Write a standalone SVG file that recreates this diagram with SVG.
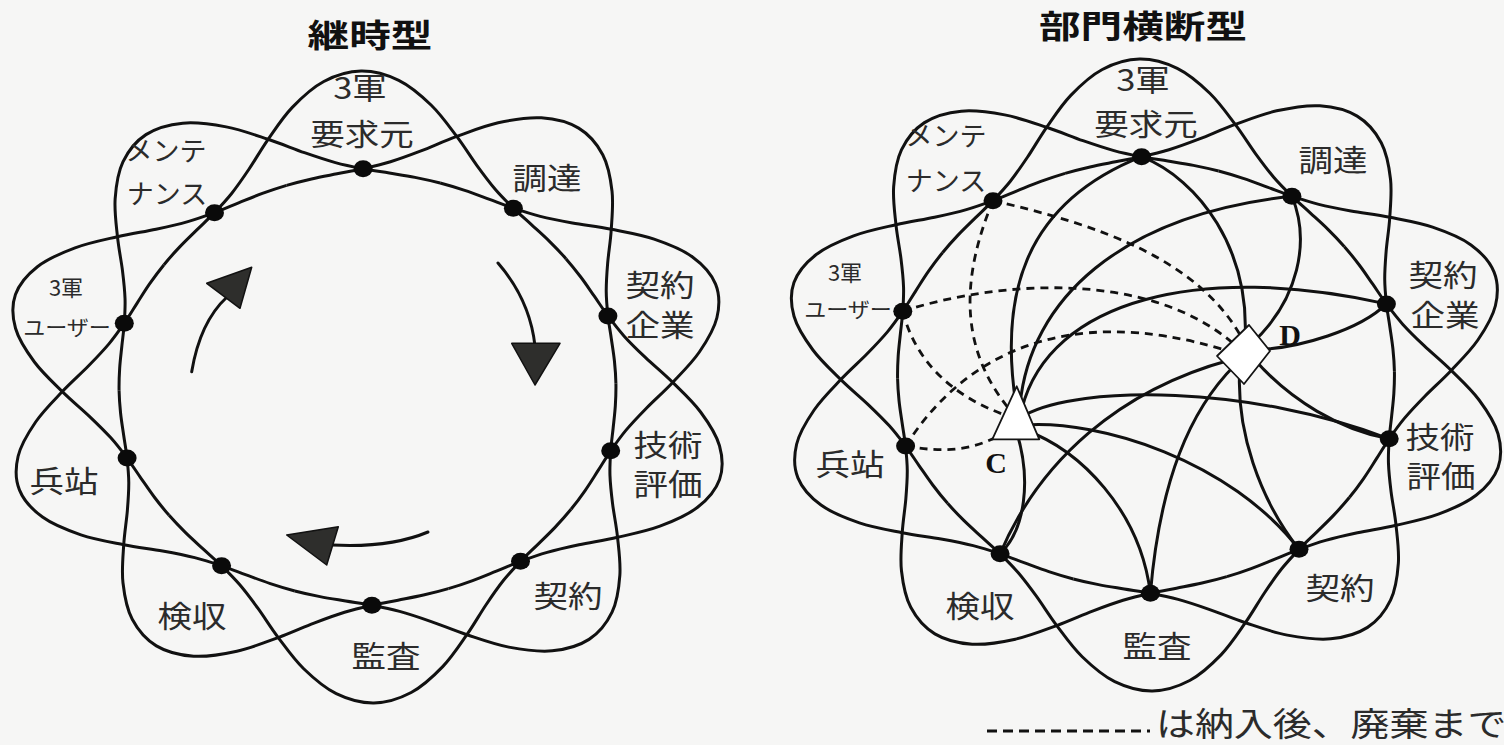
<svg xmlns="http://www.w3.org/2000/svg" width="1504" height="745" viewBox="0 0 1504 745">
<style>
.bg{fill:#f6f6f5}
.pt{fill:none;stroke:#111;stroke-width:3;vector-effect:non-scaling-stroke}
.ln{fill:none;stroke:#111;stroke-width:3;stroke-linecap:round}
.dsh{fill:none;stroke:#111;stroke-width:2.8;stroke-dasharray:8 6}
.dot{fill:#0a0a0a}
.lbl{font-family:"Noto Sans CJK JP","Noto Sans CJK SC",sans-serif;font-size:30px;fill:#2b2b2b;text-anchor:middle}
.kt{font-size:27px}
.sm{font-size:22px}
.us{font-size:21px}
.ttl{font-family:"Noto Sans CJK JP","Noto Sans CJK SC",sans-serif;font-size:32px;font-weight:700;fill:#111;text-anchor:middle}
.cd{font-family:"Liberation Serif",serif;font-size:30px;font-weight:700;fill:#111;text-anchor:middle}
.head{fill:#2e2e2c;stroke:#111;stroke-width:1.5;stroke-linejoin:round}
.shape{fill:#fff;stroke:#141414;stroke-width:1.8;stroke-linejoin:round}
.leg{font-family:"Noto Sans CJK JP","Noto Sans CJK SC",sans-serif;font-size:33px;fill:#2b2b2b}
</style>
<defs>
<path id="petal" class="pt" d="M-172.53,-125.35 C-168.16,-131.37 -163.5,-137.18 -158.7,-142.89 C-153.9,-148.6 -148.8,-154.01 -143.73,-159.63 C-138.66,-165.25 -133.42,-170.58 -128.31,-176.61 C-123.2,-182.64 -118.13,-188.63 -113.05,-195.81 C-107.97,-202.99 -103.17,-210.81 -97.82,-219.71 C-92.47,-228.61 -87.32,-239.01 -80.96,-249.18 C-74.6,-259.35 -67.8,-271.24 -59.67,-280.73 C-51.54,-290.22 -42.12,-300.23 -32.17,-306.11 C-22.23,-311.99 -10.72,-316 0,-316 C10.72,-316 22.23,-311.99 32.17,-306.11 C42.12,-300.23 51.54,-290.22 59.67,-280.73 C67.8,-271.24 74.6,-259.35 80.96,-249.18 C87.32,-239.01 92.47,-228.61 97.82,-219.71 C103.17,-210.81 107.97,-202.99 113.05,-195.81 C118.13,-188.63 123.2,-182.64 128.31,-176.61 C133.42,-170.58 138.66,-165.25 143.73,-159.63 C148.8,-154.01 153.9,-148.6 158.7,-142.89 C163.5,-137.18 168.16,-131.37 172.53,-125.35"/>
</defs>
<rect class="bg" x="0" y="0" width="1504" height="745"/>

<!-- titles -->
<text id="title-left" class="ttl" transform="translate(370 47) scale(1.3 1)">継時型</text>
<text id="title-right" class="ttl" transform="translate(1143 38) scale(1.3 1)">部門横断型</text>

<!-- LEFT FIGURE -->
<g id="left-rosette" transform="translate(367.5 387) scale(1.165 1) rotate(-1)">
<use href="#petal"/>
<use href="#petal" transform="rotate(36)"/>
<use href="#petal" transform="rotate(72)"/>
<use href="#petal" transform="rotate(108)"/>
<use href="#petal" transform="rotate(144)"/>
<use href="#petal" transform="rotate(180)"/>
<use href="#petal" transform="rotate(216)"/>
<use href="#petal" transform="rotate(252)"/>
<use href="#petal" transform="rotate(288)"/>
<use href="#petal" transform="rotate(324)"/>
</g>
<g id="left-arrows">
<path class="ln" d="M191.7,371.7 Q200,322 227,297"/>
<polygon class="head" points="206.7,283.3 251.7,267.3 240,308.3"/>
<path class="ln" d="M498,263 Q530,300 535,346"/>
<polygon class="head" points="511.7,343.3 560,343.3 535,385"/>
<path class="ln" d="M428,532 Q390,548 332,545"/>
<polygon class="head" points="286.7,535 338.3,526.7 326.7,565"/>
</g>
<g id="left-dots">
<ellipse class="dot" cx="363.1" cy="168.7" rx="9.5" ry="8.5"/>
<ellipse class="dot" cx="513.4" cy="208.2" rx="9.5" ry="8.5"/>
<ellipse class="dot" cx="607.9" cy="315.9" rx="9.5" ry="8.5"/>
<ellipse class="dot" cx="610.7" cy="450.8" rx="9.5" ry="8.5"/>
<ellipse class="dot" cx="520.5" cy="561.3" rx="9.5" ry="8.5"/>
<ellipse class="dot" cx="371.9" cy="605.3" rx="9.5" ry="8.5"/>
<ellipse class="dot" cx="221.6" cy="565.8" rx="9.5" ry="8.5"/>
<ellipse class="dot" cx="127.1" cy="458.1" rx="9.5" ry="8.5"/>
<ellipse class="dot" cx="124.3" cy="323.2" rx="9.5" ry="8.5"/>
<ellipse class="dot" cx="214.5" cy="212.7" rx="9.5" ry="8.5"/>
</g>
<g id="left-labels">
<g id="L-youkyuu"><text class="lbl" transform="translate(360 99) scale(1.15 1)">3軍</text><text class="lbl" transform="translate(362 145) scale(1.15 1)">要求元</text></g>
<g id="L-choutatsu"><text class="lbl" transform="translate(547 189) scale(1.15 1)">調達</text></g>
<g id="L-keiyakukigyou"><text class="lbl" transform="translate(660 296) scale(1.15 1)">契約</text><text class="lbl" transform="translate(660 336) scale(1.15 1)">企業</text></g>
<g id="L-gijutsu"><text class="lbl" transform="translate(668 456) scale(1.15 1)">技術</text><text class="lbl" transform="translate(668 495) scale(1.15 1)">評価</text></g>
<g id="L-keiyaku"><text class="lbl" transform="translate(568 607) scale(1.15 1)">契約</text></g>
<g id="L-kansa"><text class="lbl" transform="translate(386 667) scale(1.15 1)">監査</text></g>
<g id="L-kenshuu"><text class="lbl" transform="translate(192 627) scale(1.15 1)">検収</text></g>
<g id="L-heitan"><text class="lbl" transform="translate(64 492) scale(1.15 1)">兵站</text></g>
<g id="L-user"><text class="lbl sm" transform="translate(66 296)">3軍</text><text class="lbl us" transform="translate(67 335) scale(1.05 1)">ユーザー</text></g>
<g id="L-maint"><text class="lbl kt" transform="translate(166 161)">メンテ</text><text class="lbl kt" transform="translate(167 204)">ナンス</text></g>
</g>

<!-- RIGHT FIGURE -->
<g id="right-rosette" transform="translate(1146 375) scale(1.165 1) rotate(-1)">
<use href="#petal"/>
<use href="#petal" transform="rotate(36)"/>
<use href="#petal" transform="rotate(72)"/>
<use href="#petal" transform="rotate(108)"/>
<use href="#petal" transform="rotate(144)"/>
<use href="#petal" transform="rotate(180)"/>
<use href="#petal" transform="rotate(216)"/>
<use href="#petal" transform="rotate(252)"/>
<use href="#petal" transform="rotate(288)"/>
<use href="#petal" transform="rotate(324)"/>
</g>
<g id="connectors">
<path class="ln" d="M1016,405 C1000,300 1020,205 1141.6,156.7"/>
<path class="ln" d="M1020,405 C1030,300 1120,215 1291.9,196.2"/>
<path class="ln" d="M1022,408 C1050,300 1200,262 1386.4,303.9"/>
<path class="ln" d="M1025,415 C1080,385 1250,385 1389.2,438.8"/>
<path class="ln" d="M1025,425 C1100,420 1230,460 1299,549.3"/>
<path class="ln" d="M1025,430 C1080,450 1140,510 1150.4,593.3"/>
<path class="ln" d="M1016,430 C1032,480 1025,530 1000.1,553.8"/>
<path class="ln" d="M1141.6,156.7 C1200,180 1250,250 1245,340"/>
<path class="ln" d="M1291.9,196.2 C1310,240 1300,300 1250,345"/>
<path class="ln" d="M1255,350 C1300,348 1360,330 1386.4,303.9"/>
<path class="ln" d="M1255,360 C1290,400 1340,430 1389.2,438.8"/>
<path class="ln" d="M1240,365 C1235,430 1260,500 1299,549.3"/>
<path class="ln" d="M1235,365 C1190,410 1160,480 1150.4,593.3"/>
<path class="ln" d="M1230,360 C1120,390 1040,460 1000.1,553.8"/>
<path class="dsh" d="M993,200.7 C1100,225 1200,260 1243,340"/>
<path class="dsh" d="M993,200.7 C960,280 960,350 1010,410"/>
<path class="dsh" d="M902.8,311.2 C1000,280 1150,270 1235,345"/>
<path class="dsh" d="M902.8,311.2 C915,360 950,395 1005,415"/>
<path class="dsh" d="M905.6,446.1 C960,360 1060,300 1225,350"/>
<path class="dsh" d="M905.6,446.1 C940,452 970,452 1000,435"/>
</g>
<g id="right-dots">
<ellipse class="dot" cx="1141.6" cy="156.7" rx="9.5" ry="8.5"/>
<ellipse class="dot" cx="1291.9" cy="196.2" rx="9.5" ry="8.5"/>
<ellipse class="dot" cx="1386.4" cy="303.9" rx="9.5" ry="8.5"/>
<ellipse class="dot" cx="1389.2" cy="438.8" rx="9.5" ry="8.5"/>
<ellipse class="dot" cx="1299" cy="549.3" rx="9.5" ry="8.5"/>
<ellipse class="dot" cx="1150.4" cy="593.3" rx="9.5" ry="8.5"/>
<ellipse class="dot" cx="1000.1" cy="553.8" rx="9.5" ry="8.5"/>
<ellipse class="dot" cx="905.6" cy="446.1" rx="9.5" ry="8.5"/>
<ellipse class="dot" cx="902.8" cy="311.2" rx="9.5" ry="8.5"/>
<ellipse class="dot" cx="993" cy="200.7" rx="9.5" ry="8.5"/>
</g>
<g id="node-C">
<polygon class="shape" points="1016.7,386.3 992.3,439.3 1039.3,439.3"/>
<text class="cd" x="996" y="473">C</text>
</g>
<g id="node-D">
<polygon class="shape" points="1249,325 1270,351 1244,384 1217,356"/>
<text class="cd" x="1290" y="345">D</text>
</g>
<g id="right-labels">
<g id="R-youkyuu"><text class="lbl" transform="translate(1143 91) scale(1.15 1)">3軍</text><text class="lbl" transform="translate(1146 135) scale(1.15 1)">要求元</text></g>
<g id="R-choutatsu"><text class="lbl" transform="translate(1333 171) scale(1.15 1)">調達</text></g>
<g id="R-keiyakukigyou"><text class="lbl" transform="translate(1443 286) scale(1.15 1)">契約</text><text class="lbl" transform="translate(1445 326) scale(1.15 1)">企業</text></g>
<g id="R-gijutsu"><text class="lbl" transform="translate(1440 448) scale(1.15 1)">技術</text><text class="lbl" transform="translate(1441 487) scale(1.15 1)">評価</text></g>
<g id="R-keiyaku"><text class="lbl" transform="translate(1340 599) scale(1.15 1)">契約</text></g>
<g id="R-kansa"><text class="lbl" transform="translate(1157 657) scale(1.15 1)">監査</text></g>
<g id="R-kenshuu"><text class="lbl" transform="translate(980 617) scale(1.15 1)">検収</text></g>
<g id="R-heitan"><text class="lbl" transform="translate(850 475) scale(1.15 1)">兵站</text></g>
<g id="R-user"><text class="lbl sm" transform="translate(845 281)">3軍</text><text class="lbl us" transform="translate(848 317) scale(1.05 1)">ユーザー</text></g>
<g id="R-maint"><text class="lbl kt" transform="translate(946 146)">メンテ</text><text class="lbl kt" transform="translate(946 191)">ナンス</text></g>
</g>

<g id="legend">
<path class="ln" d="M987,731 L1150,731" style="stroke-dasharray:10 6;stroke-linecap:butt"/>
<text class="leg" transform="translate(1156 736) scale(1.18 1)">は納入後、廃棄まで</text>
</g>
</svg>
